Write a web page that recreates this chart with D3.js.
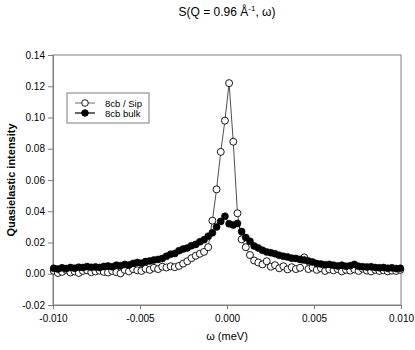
<!DOCTYPE html>
<html><head><meta charset="utf-8">
<script src="https://cdn.jsdelivr.net/npm/d3@7"></script>
<style>
html,body{margin:0;padding:0;background:#fff;}
svg{display:block;font-family:"Liberation Sans",Arial,sans-serif;}
</style></head>
<body>
<svg id="chart" width="415" height="350"></svg>
<script>
const omega = [-0.00996,-0.00972,-0.00948,-0.00924,-0.00900,-0.00876,-0.00852,-0.00828,-0.00804,-0.00780,
-0.00756,-0.00732,-0.00708,-0.00684,-0.00660,-0.00636,-0.00612,-0.00588,-0.00564,-0.00540,
-0.00516,-0.00492,-0.00468,-0.00444,-0.00420,-0.00396,-0.00372,-0.00348,-0.00324,-0.00300,
-0.00276,-0.00252,-0.00228,-0.00204,-0.00180,-0.00156,-0.00132,-0.00108,-0.00084,-0.00060,
-0.00036,-0.00012,0.00012,0.00036,0.00060,0.00084,0.00108,0.00132,0.00156,0.00180,
0.00204,0.00228,0.00252,0.00276,0.00300,0.00324,0.00348,0.00372,0.00396,0.00420,
0.00444,0.00468,0.00492,0.00516,0.00540,0.00564,0.00588,0.00612,0.00636,0.00660,
0.00684,0.00708,0.00732,0.00756,0.00780,0.00804,0.00828,0.00852,0.00876,0.00900,
0.00924,0.00948,0.00972,0.00996];

const sip = [0.0020,0.0005,0.0012,0.0025,0.0008,0.0015,0.0005,0.0018,0.0022,0.0010,
0.0015,0.0020,0.0012,0.0008,0.0018,0.0010,0.0002,0.0025,0.0015,0.0030,
0.0022,0.0018,0.0032,0.0025,0.0038,0.0030,0.0045,0.0040,0.0048,0.0042,
0.0050,0.0065,0.0080,0.0100,0.0115,0.0128,0.0140,0.0170,0.0340,0.0540,
0.0780,0.0980,0.1220,0.0845,0.0387,0.0220,0.0170,0.0120,0.0085,0.0072,
0.0060,0.0080,0.0045,0.0055,0.0035,0.0048,0.0028,0.0042,0.0030,0.0038,
0.0105,0.0030,0.0040,0.0025,0.0035,0.0018,0.0028,0.0022,0.0030,0.0015,
0.0025,0.0020,0.0028,0.0018,0.0032,0.0020,0.0015,0.0025,0.0018,0.0022,
0.0015,0.0020,0.0018,0.0025];

const bulk = [0.0035,0.0030,0.0038,0.0033,0.0040,0.0036,0.0042,0.0040,0.0046,0.0041,
0.0044,0.0040,0.0047,0.0050,0.0045,0.0055,0.0052,0.0060,0.0056,0.0066,
0.0072,0.0068,0.0078,0.0082,0.0088,0.0092,0.0098,0.0112,0.0125,0.0130,
0.0148,0.0158,0.0165,0.0180,0.0188,0.0205,0.0218,0.0240,0.0262,0.0300,
0.0335,0.0368,0.0320,0.0312,0.0322,0.0270,0.0232,0.0208,0.0178,0.0165,
0.0150,0.0140,0.0135,0.0128,0.0118,0.0112,0.0108,0.0100,0.0098,0.0092,
0.0088,0.0082,0.0075,0.0065,0.0062,0.0058,0.0060,0.0055,0.0050,0.0055,
0.0048,0.0052,0.0060,0.0048,0.0045,0.0043,0.0045,0.0040,0.0038,0.0040,
0.0035,0.0038,0.0033,0.0035];

const xTicks = [-0.010,-0.005,0.000,0.005,0.010];
const yTicks = [-0.02,0.00,0.02,0.04,0.06,0.08,0.10,0.12,0.14];
const seriesNames = ["8cb / Sip","8cb bulk"];

const svg = d3.select("#chart");
const L = 53, R = 401, T = 55, B = 305;
const x = d3.scaleLinear().domain([-0.010,0.010]).range([L,R]);
const y = d3.scaleLinear().domain([-0.02,0.14]).range([B,T]);
const axisCol = "#7f7f7f";
const rM = 3.5;

// title
const title = svg.append("text").attr("x",227).attr("y",16).attr("text-anchor","middle")
  .attr("font-size",12).attr("fill","#000");
title.append("tspan").text("S(Q = 0.96 Å");
title.append("tspan").attr("dy",-5).attr("font-size",8).text("-1");
title.append("tspan").attr("dy",5).text(", ω)");

// frame
svg.append("rect").attr("x",L).attr("y",T).attr("width",R-L).attr("height",B-T)
  .attr("fill","none").attr("stroke",axisCol).attr("stroke-width",1);

// axes
const xAxis = d3.axisBottom(x).tickValues(xTicks).tickSizeOuter(0).tickSize(4).tickPadding(6);
const gx = svg.append("g").attr("transform",`translate(0,${B})`).call(xAxis);
const yAxis = d3.axisLeft(y).tickValues(yTicks).tickSizeOuter(0).tickSize(5).tickPadding(3);
const gy = svg.append("g").attr("transform",`translate(${L},0)`).call(yAxis);
[gx,gy].forEach(g=>{
  g.select(".domain").attr("stroke",axisCol);
  g.selectAll(".tick line").attr("stroke",axisCol);
  g.selectAll(".tick text").attr("font-size",10).attr("fill","#000").attr("font-family","Liberation Sans, Arial, sans-serif");
});
gx.selectAll(".tick text").text(d => d3.format(".3f")(d).replace("−","-"));
gy.selectAll(".tick text").text(d => d3.format(".2f")(d).replace("−","-"));

// axis labels
svg.append("text").attr("x",227).attr("y",340).attr("text-anchor","middle")
  .attr("font-size",11).text("ω (meV)");
svg.append("text").attr("transform","translate(15,180) rotate(-90)").attr("text-anchor","middle")
  .attr("font-size",11).attr("font-weight","bold").text("Quasielastic intensity");

const line = d3.line().x((d,i)=>x(omega[i])).y(d=>y(d));
const plot = svg.append("g");

// Sip series (open)
plot.append("path").datum(sip).attr("d",line).attr("fill","none").attr("stroke","#222").attr("stroke-width",0.8);
plot.selectAll("circle.sip").data(sip).enter().append("circle").attr("class","sip")
  .attr("cx",(d,i)=>x(omega[i])).attr("cy",d=>y(d)).attr("r",rM)
  .attr("fill","#fff").attr("stroke","#000").attr("stroke-width",0.9);

// bulk series (filled)
plot.append("path").datum(bulk).attr("d",line).attr("fill","none").attr("stroke","#000").attr("stroke-width",0.8);
plot.selectAll("circle.bulk").data(bulk).enter().append("circle").attr("class","bulk")
  .attr("cx",(d,i)=>x(omega[i])).attr("cy",d=>y(d)).attr("r",rM)
  .attr("fill","#000").attr("stroke","#000").attr("stroke-width",0.6);

// legend
const lg = svg.append("g");
lg.append("rect").attr("x",67).attr("y",93).attr("width",82).attr("height",30)
  .attr("fill","#fff").attr("stroke",axisCol).attr("stroke-width",1);
seriesNames.forEach((name,i)=>{
  const yy = 103 + i*10;
  lg.append("line").attr("x1",75).attr("x2",95).attr("y1",yy).attr("y2",yy).attr("stroke",i?"#000":"#444").attr("stroke-width",i?1.2:0.8);
  lg.append("circle").attr("cx",85).attr("cy",yy).attr("r",3.3)
    .attr("fill",i?"#000":"#fff").attr("stroke","#000").attr("stroke-width",0.9);
  lg.append("text").attr("x",105).attr("y",yy+3.5).attr("font-size",9.5).text(name);
});
</script>
</body></html>
